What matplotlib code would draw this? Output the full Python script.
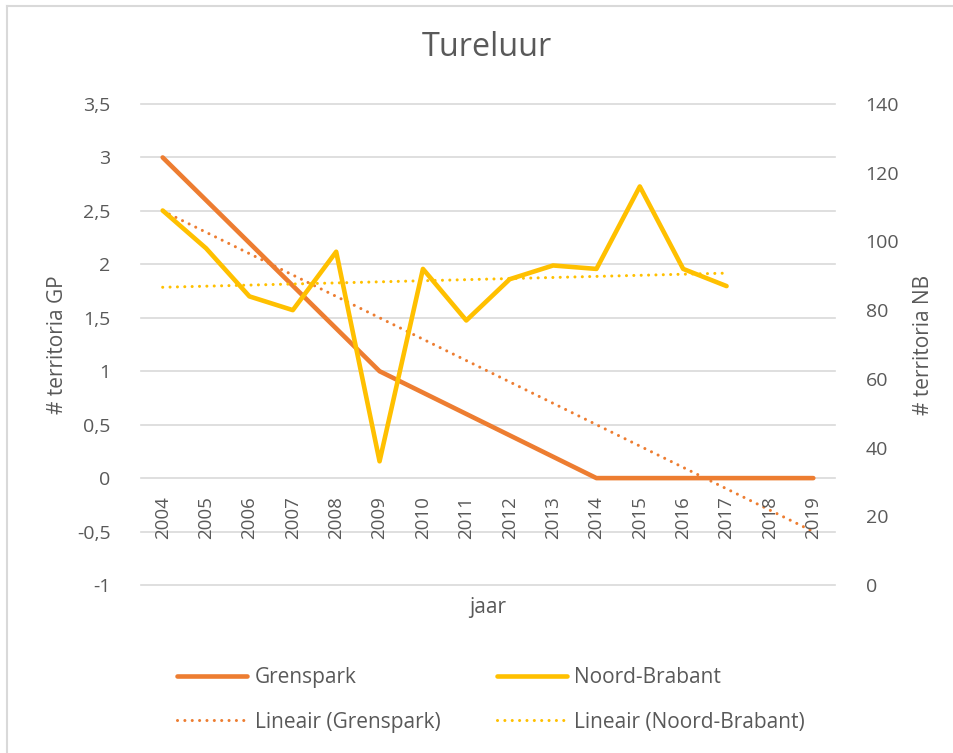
import numpy as np
import matplotlib
matplotlib.use('Agg')
import matplotlib.pyplot as plt
from matplotlib.lines import Line2D

plt.rcParams['font.family'] = ['Open Sans', 'DejaVu Sans']

# data
years = ['2004', '2005', '2006', '2007', '2008', '2009', '2010', '2011',
         '2012', '2013', '2014', '2015', '2016', '2017', '2018', '2019']
# Grenspark only counted every five years, Excel connects the points
grenspark = [3, None, None, None, None, 1, None, None,
             None, None, 0, None, None, None, None, 0]
noord_brabant = [109, 98, 84, 80, 97, 36, 92, 77, 89, 93, 92, 116, 92, 87]

left_ticks = [-1, -0.5, 0, 0.5, 1, 1.5, 2, 2.5, 3, 3.5]
right_ticks = [0, 20, 40, 60, 80, 100, 120, 140]

ORANGE = '#ED7D31'
YELLOW = '#FFC000'
GREY_TXT = '#595959'
GRID = '#D9D9D9'


def fmt(v):
    s = ('%g' % v).replace('.', ',')
    return s


def trend(x, y, x_eval):
    k, b = np.polyfit(x, y, 1)
    return k * np.asarray(x_eval) + b


fig = plt.figure(figsize=(9.54, 7.53), dpi=100)
ax = fig.add_axes([141 / 954, 1 - 585 / 753, (835 - 141) / 954, (585 - 104) / 753])
ax2 = ax.twinx()

x_all = np.arange(len(years))
gp_x = np.array([i for i, v in enumerate(grenspark) if v is not None])
gp_y = np.array([v for v in grenspark if v is not None], dtype=float)
nb_x = np.arange(len(noord_brabant))
nb_y = np.array(noord_brabant, dtype=float)

dot = (0, (0.01, 2.4))
l1, = ax.plot(gp_x, gp_y, color=ORANGE, lw=3.3, solid_capstyle='round',
              solid_joinstyle='round', label='Grenspark', zorder=3)
t1, = ax.plot(x_all, trend(gp_x, gp_y, x_all), color=ORANGE, lw=2.2,
              linestyle=dot, dash_capstyle='round', label='Lineair (Grenspark)', zorder=3)
l2, = ax2.plot(nb_x, nb_y, color=YELLOW, lw=3.3, solid_capstyle='round',
               solid_joinstyle='round', label='Noord-Brabant', zorder=3)
t2, = ax2.plot(nb_x, trend(nb_x, nb_y, nb_x), color=YELLOW, lw=2.2,
               linestyle=dot, dash_capstyle='round', label='Lineair (Noord-Brabant)', zorder=3)

ax.set_xlim(-0.5, len(years) - 0.5)
ax.set_ylim(-1, 3.5)
ax2.set_ylim(0, 140)
ax.set_yticks(left_ticks)
ax.set_yticklabels([fmt(v) for v in left_ticks])
ax2.set_yticks(right_ticks)
ax2.set_yticklabels([str(v) for v in right_ticks])
ax.set_xticks([])

ax.grid(axis='y', color=GRID, lw=1.2)
for gl in ax.get_ygridlines():
    gl.set_clip_on(False)
ax.set_axisbelow(True)
for a in (ax, ax2):
    for sp in a.spines.values():
        sp.set_visible(False)
ax.tick_params(axis='y', length=0, pad=22, labelsize=14, labelcolor=GREY_TXT)
ax2.tick_params(axis='y', length=0, pad=22, labelsize=14, labelcolor=GREY_TXT)

# category labels sit under the zero line
for i, yr in enumerate(years):
    ax.annotate(yr, (i, 0), xytext=(0, -13), textcoords='offset points',
                rotation=90, ha='center', va='top', fontsize=13.5, color=GREY_TXT)

ax.set_ylabel('# territoria GP', fontsize=15, color=GREY_TXT, labelpad=6)
ax2.set_ylabel('# territoria NB', fontsize=15, color=GREY_TXT, labelpad=10)
fig.text(488 / 954, 1 - 608 / 753, 'jaar', ha='center', va='center',
         fontsize=15, color=GREY_TXT)
fig.text(487 / 954, 1 - 48 / 753, 'Tureluur', ha='center', va='center',
         fontsize=23.3, color=GREY_TXT)

leg = fig.legend([l1, t1, l2, t2], [h.get_label() for h in (l1, t1, l2, t2)],
                 ncol=2, loc='center', bbox_to_anchor=(491 / 954, 1 - 700 / 753),
                 frameon=False, fontsize=15, handlelength=3.37, handletextpad=0.35,
                 columnspacing=2.7, labelspacing=1.12, borderpad=0, borderaxespad=0)
for txt in leg.get_texts():
    txt.set_color(GREY_TXT)

# chart border (only top and left visible in the crop)
fig.add_artist(Line2D([7 / 954, 1], [1 - 6 / 753, 1 - 6 / 753], color=GRID, lw=1.5,
                      transform=fig.transFigure))
fig.add_artist(Line2D([7 / 954, 7 / 954], [0, 1 - 6 / 753], color=GRID, lw=1.5,
                      transform=fig.transFigure))

fig.savefig('out.png', dpi=100, facecolor='white')
